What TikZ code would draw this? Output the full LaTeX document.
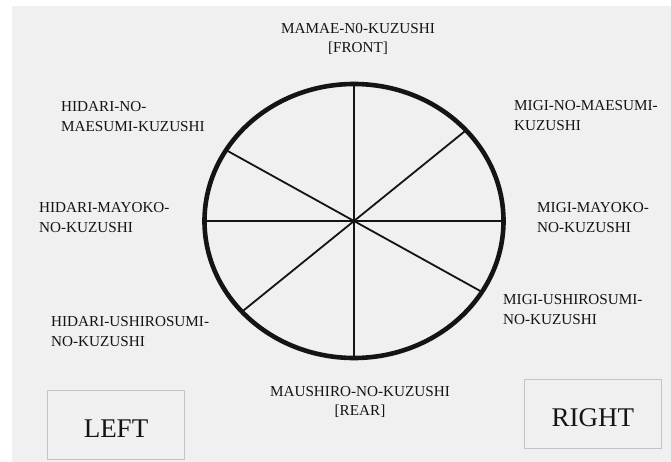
\documentclass[tikz,border=0pt]{standalone}
\usepackage{fontspec}
\setmainfont{Liberation Serif}
\usetikzlibrary{shapes.geometric}
\definecolor{bgc}{HTML}{F0F0F0}
\definecolor{ink}{HTML}{141414}
\definecolor{boxc}{HTML}{C4C4C4}
\begin{document}
\begin{tikzpicture}[x=1bp,y=-1bp,
  lbl/.style={inner sep=0pt, align=left, text=ink, font=\fontsize{15.2bp}{19.5bp}\selectfont},
  clbl/.style={inner sep=0pt, align=center, text=ink, font=\fontsize{15.2bp}{19.5bp}\selectfont},
  sidebox/.style={draw=boxc, line width=1.1bp, inner sep=0pt, text=ink,
    minimum width=137bp, minimum height=68.5bp, text height=25bp, text depth=0pt,
    font=\fontsize{27bp}{30bp}\selectfont},
  spoke/.style={draw=ink, line width=1.8bp}]
\useasboundingbox (0,0) rectangle (671,462);
\fill[bgc] (12,6) rectangle (671,462);
\coordinate (c) at (354,221);
\node[draw=ink, line width=4.6bp, ellipse, inner sep=0pt, outer sep=0pt,
  minimum width=299bp, minimum height=274bp] (wheel) at (c) {};
\draw[spoke] (wheel.90) -- (wheel.270);
\draw[spoke] (wheel.0) -- (wheel.180);
\draw[spoke] (wheel.39) -- (wheel.219);
\draw[spoke] (wheel.151) -- (wheel.331.5);
% base anchor of a two-line node = baseline of its second line
\node[clbl, anchor=base] (front) at (358,52.8) {MAMAE-N0-KUZUSHI\\{}[FRONT]};
\node[clbl, anchor=base] (rear) at (360,415.5) {MAUSHIRO-NO-KUZUSHI\\{}[REAR]};
\node[lbl, anchor=base west] (hnm) at (61,131.5) {HIDARI-NO-\\MAESUMI-KUZUSHI};
\node[lbl, anchor=base west] (hmy) at (39,232.5) {HIDARI-MAYOKO-\\NO-KUZUSHI};
\node[lbl, anchor=base west] (hus) at (51,346.5) {HIDARI-USHIROSUMI-\\NO-KUZUSHI};
\node[lbl, anchor=base west] (mnm) at (514,130.5) {MIGI-NO-MAESUMI-\\KUZUSHI};
\node[lbl, anchor=base west] (mmy) at (537,232.5) {MIGI-MAYOKO-\\NO-KUZUSHI};
\node[lbl, anchor=base west] (mus) at (503,324.5) {MIGI-USHIROSUMI-\\NO-KUZUSHI};
\node[sidebox] (left) at (116,425) {LEFT};
\node[sidebox] (right) at (592.8,413.8) {RIGHT};
\end{tikzpicture}
\end{document}
